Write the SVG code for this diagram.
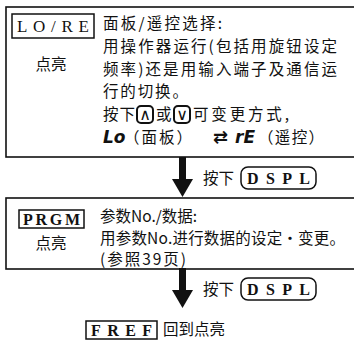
<svg xmlns="http://www.w3.org/2000/svg" width="354" height="340" viewBox="0 0 354 340">
<style>
.frame{fill:none;stroke:#111;stroke-width:1.6}
.key{fill:#fff;stroke:#111;stroke-width:1.5}
.rkey{fill:#fff;stroke:#111;stroke-width:2}
.zh{font-family:"Noto Sans CJK SC","Noto Sans CJK JP",sans-serif;font-size:15.5px;fill:#111}
.lat{font-family:"Liberation Serif",serif;font-size:17px;fill:#111}
.latb{font-family:"Liberation Serif",serif;font-size:16px;font-weight:bold;fill:#111}
.seg{font-family:"DejaVu Sans",sans-serif;font-size:17px;font-weight:bold;font-style:italic;fill:#111}
.sym{font-family:"DejaVu Sans",sans-serif;fill:#111}
.arrow{fill:#111}
</style>
<rect width="354" height="340" fill="#fff"/>

<g id="node-lore">
  <rect class="frame" x="6" y="7" width="360" height="150"/>
  <rect class="key" x="12" y="14" width="82" height="24"/>
  <text class="lat" x="17" y="32" textLength="72" lengthAdjust="spacing">LO/RE</text>
  <text class="zh" x="51" y="70" text-anchor="middle">点亮</text>
  <text class="zh" x="103" y="29" textLength="119" lengthAdjust="spacing">面板/遥控选择:</text>
  <text class="zh" x="103" y="52" textLength="234" lengthAdjust="spacing">用操作器运行(包括用旋钮设定</text>
  <text class="zh" x="103" y="75" textLength="234" lengthAdjust="spacing">频率)还是用输入端子及通信运</text>
  <text class="zh" x="103" y="97" textLength="85" lengthAdjust="spacing">行的切换。</text>
  <text class="zh" x="103" y="120" textLength="32" lengthAdjust="spacing">按下</text>
  <rect class="rkey" x="137" y="106" width="16" height="17" rx="4"/>
  <text class="sym" x="145" y="120" font-size="16" text-anchor="middle">∧</text>
  <text class="zh" x="156" y="120">或</text>
  <rect class="rkey" x="174" y="106" width="16" height="17" rx="4"/>
  <text class="sym" x="182" y="120" font-size="16" text-anchor="middle">∨</text>
  <text class="zh" x="193" y="120" textLength="96" lengthAdjust="spacing">可变更方式,</text>
  <text class="seg" x="103" y="143">Lo</text>
  <text class="zh" x="124" y="143" textLength="68" lengthAdjust="spacing">（面板）</text>
  <text class="sym" x="213" y="143" font-size="18" font-weight="bold">⇄</text>
  <text class="seg" x="235" y="143">rE</text>
  <text class="zh" x="258" y="143" textLength="66" lengthAdjust="spacing">（遥控）</text>
</g>

<g id="connectors">
  <rect class="arrow" x="179" y="157" width="7" height="22"/>
  <polygon class="arrow" points="172,179 193,179 182.5,197"/>
  <rect class="arrow" x="179" y="268" width="7" height="22"/>
  <polygon class="arrow" points="172,290 193,290 182.5,308"/>
</g>

<g id="label-dspl-1">
  <text class="zh" x="203" y="184">按下</text>
  <rect class="key" x="241" y="167" width="75" height="22" rx="7"/>
  <text class="latb" x="247" y="184" textLength="63" lengthAdjust="spacing">DSPL</text>
</g>

<g id="node-prgm">
  <rect class="frame" x="6" y="198" width="360" height="71"/>
  <rect class="key" x="19" y="210" width="65" height="18"/>
  <text class="latb" x="23" y="225" textLength="57" lengthAdjust="spacing">PRGM</text>
  <text class="zh" x="51" y="249" text-anchor="middle">点亮</text>
  <text class="zh" x="100" y="222">参数No./数据:</text>
  <text class="zh" x="100" y="244" textLength="245" lengthAdjust="spacing">用参数No.进行数据的设定・变更。</text>
  <text class="zh" x="100" y="265" textLength="86" lengthAdjust="spacing">(参照39页)</text>
</g>

<g id="label-dspl-2">
  <text class="zh" x="203" y="295">按下</text>
  <rect class="key" x="241" y="278" width="75" height="22" rx="7"/>
  <text class="latb" x="247" y="295" textLength="63" lengthAdjust="spacing">DSPL</text>
</g>

<g id="node-fref">
  <rect class="key" x="86" y="321" width="71" height="18"/>
  <text class="latb" x="91" y="336" textLength="61" lengthAdjust="spacing">FREF</text>
  <text class="zh" x="163" y="335">回到点亮</text>
</g>
</svg>
